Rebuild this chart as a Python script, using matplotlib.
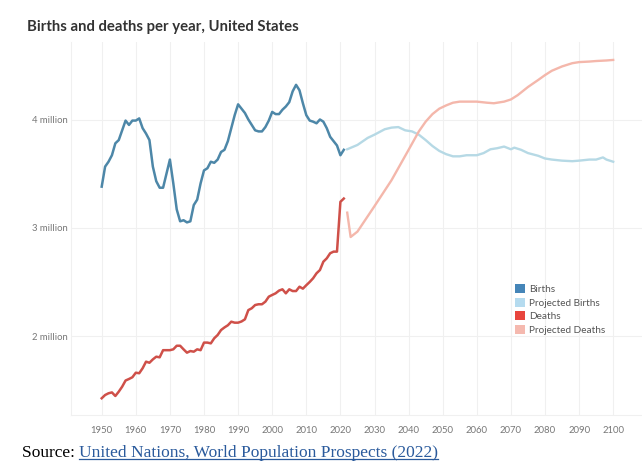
import matplotlib
matplotlib.use("Agg")
import matplotlib.pyplot as plt
from matplotlib.patches import Patch
from matplotlib.lines import Line2D

# ---------------- data (millions) ----------------
hist_years = list(range(1950, 2022))
births_hist = [3.38, 3.565, 3.61, 3.67, 3.78, 3.81, 3.90, 3.99, 3.95, 3.99,
               3.99, 4.01, 3.92, 3.87, 3.81, 3.565, 3.43, 3.37, 3.37, 3.50,
               3.63, 3.41, 3.17, 3.06, 3.07, 3.05, 3.06, 3.21, 3.26, 3.41,
               3.53, 3.55, 3.61, 3.60, 3.63, 3.70, 3.72, 3.80, 3.92, 4.04,
               4.14, 4.10, 4.06, 4.00, 3.95, 3.90, 3.89, 3.89, 3.93, 3.99,
               4.07, 4.05, 4.05, 4.09, 4.12, 4.16, 4.26, 4.32, 4.27, 4.15,
               4.04, 3.99, 3.98, 3.965, 4.00, 3.98, 3.92, 3.84, 3.80, 3.76,
               3.67, 3.72]
deaths_hist = [1.426, 1.456, 1.472, 1.48, 1.447, 1.487, 1.533, 1.59, 1.604, 1.62,
               1.662, 1.657, 1.703, 1.764, 1.754, 1.785, 1.81, 1.804, 1.87, 1.87,
               1.87, 1.878, 1.911, 1.911, 1.878, 1.847, 1.862, 1.856, 1.878, 1.87,
               1.94, 1.94, 1.933, 1.98, 2.01, 2.056, 2.08, 2.10, 2.133, 2.124,
               2.124, 2.135, 2.155, 2.24, 2.257, 2.287, 2.294, 2.294, 2.318, 2.364,
               2.38, 2.395, 2.42, 2.432, 2.395, 2.432, 2.416, 2.416, 2.456, 2.438,
               2.47, 2.50, 2.534, 2.58, 2.61, 2.687, 2.718, 2.765, 2.78, 2.78,
               3.24, 3.27]

proj_birth_years = [2022, 2025, 2028, 2030, 2033, 2035, 2037, 2039, 2041, 2043,
                    2045, 2047, 2049, 2051, 2053, 2055, 2057, 2060, 2062, 2064,
                    2066, 2068, 2070, 2071, 2073, 2075, 2078, 2080, 2082, 2085,
                    2088, 2090, 2093, 2095, 2097, 2098, 2100]
proj_births = [3.725, 3.765, 3.83, 3.86, 3.91, 3.925, 3.93, 3.90, 3.89, 3.86,
               3.81, 3.755, 3.71, 3.68, 3.66, 3.66, 3.67, 3.67, 3.69, 3.725,
               3.735, 3.75, 3.725, 3.74, 3.72, 3.69, 3.665, 3.64, 3.63, 3.62,
               3.615, 3.62, 3.63, 3.63, 3.65, 3.63, 3.61]

proj_death_years = [2022, 2023, 2025, 2030, 2035, 2040, 2043, 2045, 2047, 2049,
                    2051, 2053, 2055, 2057, 2060, 2063, 2065, 2068, 2070, 2072,
                    2075, 2078, 2080, 2082, 2085, 2088, 2090, 2093, 2095, 2098, 2100]
proj_deaths = [3.14, 2.915, 2.965, 3.20, 3.44, 3.72, 3.89, 3.98, 4.05, 4.10,
               4.13, 4.155, 4.165, 4.165, 4.165, 4.155, 4.15, 4.165, 4.185, 4.225,
               4.30, 4.365, 4.41, 4.45, 4.49, 4.52, 4.53, 4.535, 4.54, 4.545, 4.55]

x_ticks = list(range(1950, 2101, 10))
y_ticks = [2, 3, 4]
y_tick_labels = ["2 million", "3 million", "4 million"]
legend_labels = ["Births", "Projected Births", "Deaths", "Projected Deaths"]

title = "Births and deaths per year, United States"
source_prefix = "Source: "
source_link = "United Nations, World Population Prospects (2022)"

# ---------------- styling ----------------
W, H = 642, 472
fig = plt.figure(figsize=(W / 100, H / 100), dpi=100)
fig.patch.set_facecolor("white")

left_px, right_px, top_px, bottom_px = 71, 642, 42, 415
ax = fig.add_axes([left_px / W, 1 - bottom_px / H,
                   (right_px - left_px) / W, (bottom_px - top_px) / H])

c_births = "#4d87a8"
c_pbirths = "#b6d9e5"
c_deaths = "#cf5049"
c_pdeaths = "#f4b7ab"

ax.plot(hist_years, births_hist, color=c_births, lw=1.8, solid_joinstyle="round", zorder=3)
ax.plot(proj_birth_years, proj_births, color=c_pbirths, lw=1.7, zorder=2)
ax.plot(hist_years, deaths_hist, color=c_deaths, lw=1.8, solid_joinstyle="round", zorder=3)
ax.plot(proj_death_years, proj_deaths, color=c_pdeaths, lw=1.7, zorder=2)

# axis scales: 1950 at x=101.7px, 3.41 px / year ; 4M at y=119.5px, 108.3 px / million
px_per_year = 3.41
x0 = 1950 - (101.7 - left_px) / px_per_year
x1 = 1950 + (right_px - 101.7) / px_per_year
ax.set_xlim(x0, x1)
px_per_m = 108.3
y1 = 4 + (119.5 - top_px) / px_per_m
y0 = 4 - (bottom_px - 119.5) / px_per_m
ax.set_ylim(y0, y1)

ax.set_xticks(x_ticks)
ax.set_xticklabels([str(x) for x in x_ticks])
ax.set_yticks(y_ticks)
ax.set_yticklabels(y_tick_labels)
ax.tick_params(axis="both", length=0, labelsize=6.8, labelcolor="#777777")
ax.tick_params(axis="x", pad=8)
ax.tick_params(axis="y", pad=2)
for lab in ax.get_xticklabels() + ax.get_yticklabels():
    lab.set_fontfamily("Lato")

ax.grid(True, color="#f0f0f0", lw=0.8, zorder=0)
for s in ["top", "right"]:
    ax.spines[s].set_visible(False)
for s in ["left", "bottom"]:
    ax.spines[s].set_color("#f0f0f0")
    ax.spines[s].set_linewidth(0.8)
ax.set_facecolor("white")

# legend
handles = [Patch(facecolor="#4585b8", edgecolor="none"),
           Patch(facecolor="#b5dbef", edgecolor="none"),
           Patch(facecolor="#e8453d", edgecolor="none"),
           Patch(facecolor="#f5b9af", edgecolor="none")]
leg = fig.legend(handles, legend_labels, loc="upper left",
                 bbox_to_anchor=(510 / W, 1 - 279 / H),
                 frameon=False, handlelength=1.0, handleheight=1.0,
                 handletextpad=0.4, labelspacing=0.38, borderpad=0,
                 prop={"family": "Lato", "size": 7.2})
for t in leg.get_texts():
    t.set_color("#555555")

# title
fig.text(27 / W, 1 - 27 / H, title, fontsize=10.7, fontweight="bold",
         family="Lato", color="#333333", va="center", ha="left")

# source line
t1 = fig.text(22 / W, 1 - 453 / H, source_prefix, fontsize=12.5,
              family="Liberation Serif", color="black", va="center", ha="left")
fig.canvas.draw()
r = fig.canvas.get_renderer()
bb = t1.get_window_extent(r)
t2 = fig.text(bb.x1 / W, 1 - 453 / H, source_link, fontsize=12.5,
              family="Liberation Serif", color="#2a5a9c", va="center", ha="left")
fig.canvas.draw()
bb2 = t2.get_window_extent(r)
uy = (bb2.y0 + 2.5) / H
fig.add_artist(Line2D([bb2.x0 / W, bb2.x1 / W], [uy, uy], color="#2a5a9c", lw=0.9))

fig.savefig("out.png", dpi=100, facecolor="white")
